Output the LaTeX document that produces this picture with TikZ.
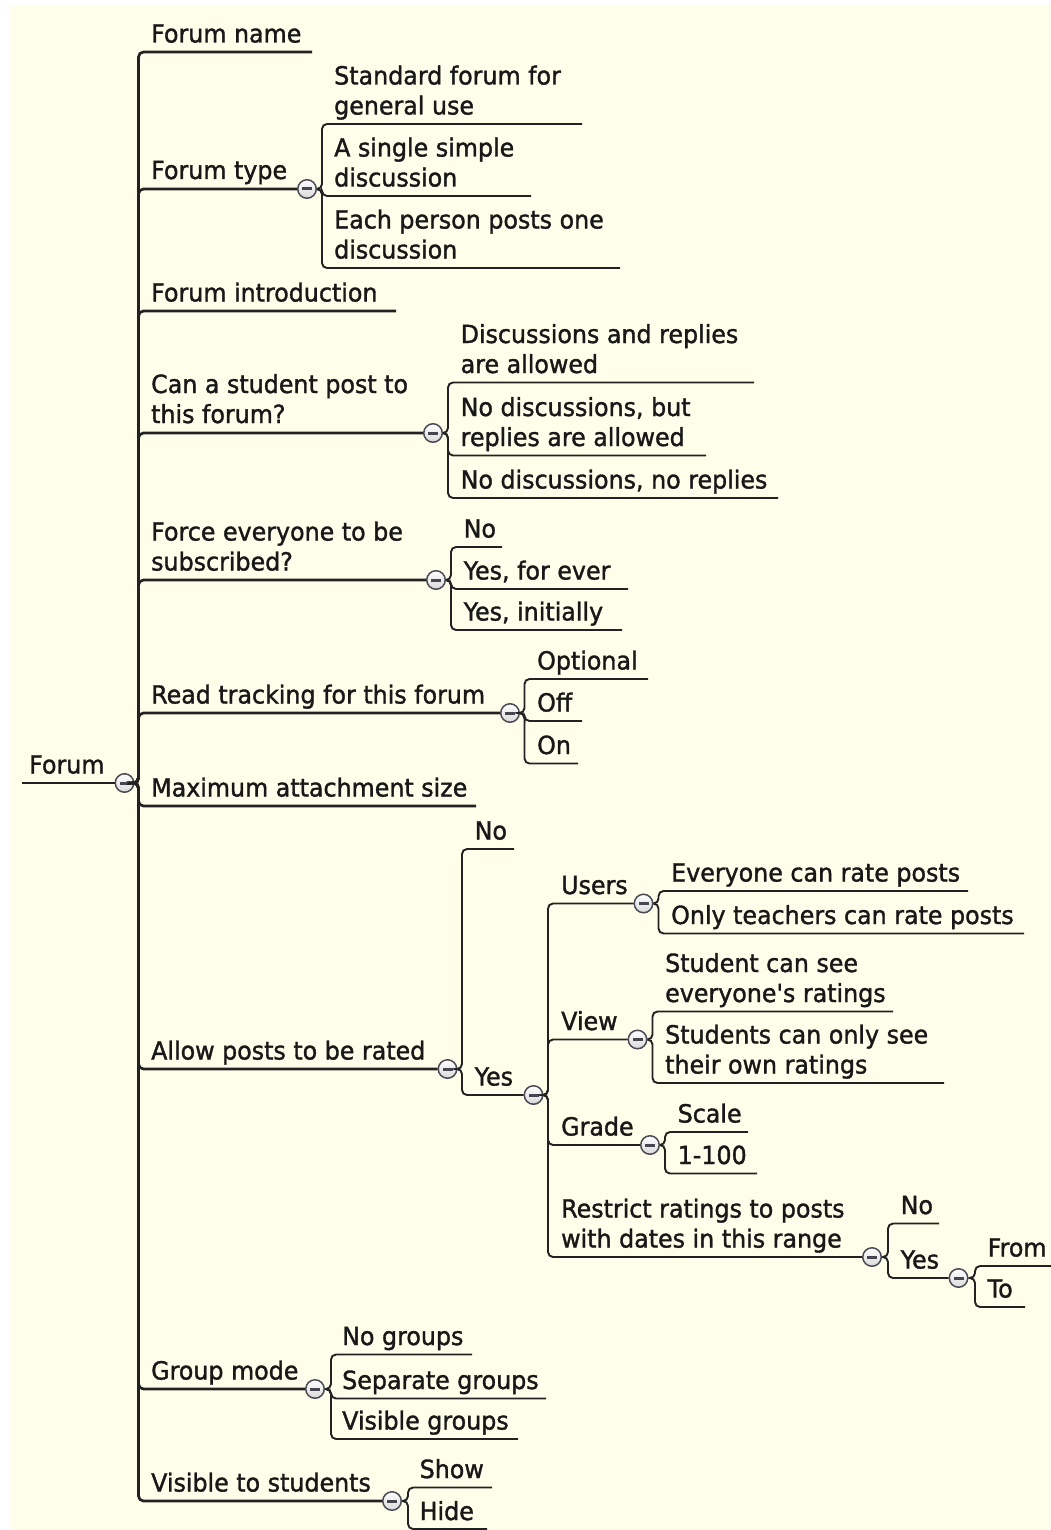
\documentclass[tikz,border=0pt]{standalone}
\usepackage{fontspec}
\newfontfamily\mapfont{DejaVu Sans}[FakeStretch=0.95,FakeBold=1.4]
\definecolor{bg}{RGB}{255,254,234}
\definecolor{ln}{RGB}{34,34,34}
\definecolor{txt}{RGB}{24,24,24}
\definecolor{cring}{RGB}{75,75,85}
\definecolor{cminus}{RGB}{70,70,80}
\newcommand\twoline[2]{\begin{tabular}[b]{@{}l@{}}#1\\#2\end{tabular}}
\tikzset{
  lbl/.style={anchor=base west, inner sep=0pt, text=txt, font=\mapfont\fontsize{25}{30}\selectfont},
  conn/.style={draw=ln, line width=1.9pt, rounded corners=5pt},
  rootconn/.style={conn, line width=2.7pt},
  coll/.style={circle, draw=cring, line width=1.5pt, minimum size=18.5pt, inner sep=0pt,
    top color=white, bottom color=gray!30,
    path picture={\fill[cminus] (-5pt,-1.5pt) rectangle (5pt,1.5pt);}},
}
\begin{document}
\begin{tikzpicture}[x=1pt,y=-1pt]
\useasboundingbox (0,0) rectangle (1051,1530);
\fill[white] (0,0) rectangle (1051,1530);
\fill[bg] (10,5) rectangle (1051,1530);

% bus coordinates
\coordinate (b0) at (138.5,0);
\coordinate (b1) at (322,0);
\coordinate (b2) at (448,0);
\coordinate (b3) at (451,0);
\coordinate (b4) at (524.5,0);
\coordinate (b5) at (462,0);
\coordinate (b6) at (331,0);
\coordinate (b7) at (408,0);
\coordinate (b8) at (548,0);
\coordinate (b9) at (658.5,0);
\coordinate (b10) at (652.5,0);
\coordinate (b11) at (665,0);
\coordinate (b12) at (888,0);
\coordinate (b13) at (975,0);

% root
\node[lbl] (forum) at (29,773.5) {Forum};
\coordinate (r0) at (22,783);
\node[coll] (c0) at (124.5,783) {};

% level 1
\node[lbl] (fname) at (151,42.5) {Forum name};
\coordinate (u-fname) at (312,52);
\node[lbl] (ftype) at (151,179) {Forum type};
\node[coll] (c1) at (307,189) {};
\node[lbl] (fintro) at (151,301.5) {Forum introduction};
\coordinate (u-fintro) at (396,311);
\node[lbl] (cans) at (151,423) {\twoline{Can a student post to}{this forum?}};
\node[coll] (c2) at (433,433) {};
\node[lbl] (force) at (151,570.5) {\twoline{Force everyone to be}{subscribed?}};
\node[coll] (c3) at (436,580) {};
\node[lbl] (read) at (151,703.5) {Read tracking for this forum};
\node[coll] (c4) at (510,713) {};
\node[lbl] (maxatt) at (151,796.5) {Maximum attachment size};
\coordinate (u-maxatt) at (476,806);
\node[lbl] (allow) at (151,1059.5) {Allow posts to be rated};
\node[coll] (c5) at (447.5,1069) {};
\node[lbl] (group) at (151,1379.5) {Group mode};
\node[coll] (c6) at (315,1389) {};
\node[lbl] (visible) at (151,1491.5) {Visible to students};
\node[coll] (c7) at (392,1501) {};

% forum type children
\node[lbl] (std) at (334,114.5) {\twoline{Standard forum for}{general use}};
\coordinate (u-std) at (582,124);
\node[lbl] (single) at (334,186.5) {\twoline{A single simple}{discussion}};
\coordinate (u-single) at (531,196);
\node[lbl] (each) at (334,258.5) {\twoline{Each person posts one}{discussion}};
\coordinate (u-each) at (620,268);

% can a student children
\node[lbl] (disc) at (460.5,373) {\twoline{Discussions and replies}{are allowed}};
\coordinate (u-disc) at (754,382.5);
\node[lbl] (nodisc) at (460.5,446) {\twoline{No discussions, but}{replies are allowed}};
\coordinate (u-nodisc) at (706,455.5);
\node[lbl] (nonone) at (460.5,488.5) {No discussions, no replies};
\coordinate (u-nonone) at (778,498);

% force children
\node[lbl] (fno) at (463.5,537.5) {No};
\coordinate (u-fno) at (502,547);
\node[lbl] (fyes) at (463.5,579.5) {Yes, for ever};
\coordinate (u-fyes) at (628,589);
\node[lbl] (fyesi) at (463.5,620.5) {Yes, initially};
\coordinate (u-fyesi) at (622,630);

% read tracking children
\node[lbl] (opt) at (537,669.5) {Optional};
\coordinate (u-opt) at (648,679);
\node[lbl] (off) at (537,711.5) {Off};
\coordinate (u-off) at (582,721);
\node[lbl] (on) at (537,754) {On};
\coordinate (u-on) at (578,763.5);

% allow children
\node[lbl] (ano) at (474.5,839.5) {No};
\coordinate (u-ano) at (514,849);
\node[lbl] (ayes) at (474.5,1085.5) {Yes};
\node[coll] (c8) at (533.5,1095) {};

% yes children
\node[lbl] (users) at (561,894) {Users};
\node[coll] (c9) at (643.5,903.5) {};
\node[lbl] (view) at (561,1030) {View};
\node[coll] (c10) at (637.5,1039.5) {};
\node[lbl] (grade) at (561,1135.5) {Grade};
\node[coll] (c11) at (650,1145) {};
\node[lbl] (restrict) at (561,1247.5) {\twoline{Restrict ratings to posts}{with dates in this range}};
\node[coll] (c12) at (872,1257) {};

% users children
\node[lbl] (everyone) at (671,881.5) {Everyone can rate posts};
\coordinate (u-everyone) at (968,891);
\node[lbl] (teachers) at (671,924) {Only teachers can rate posts};
\coordinate (u-teachers) at (1024,933.5);

% view children
\node[lbl] (seeall) at (665,1002) {\twoline{Student can see}{everyone's ratings}};
\coordinate (u-seeall) at (893,1011.5);
\node[lbl] (seeown) at (665,1073.5) {\twoline{Students can only see}{their own ratings}};
\coordinate (u-seeown) at (944,1083);

% grade children
\node[lbl] (scale) at (677.5,1122.5) {Scale};
\coordinate (u-scale) at (748,1132);
\node[lbl] (hundred) at (677.5,1164) {1-100};
\coordinate (u-hundred) at (757,1173.5);

% restrict children
\node[lbl] (rno) at (900.5,1214) {No};
\coordinate (u-rno) at (939,1223.5);
\node[lbl] (ryes) at (900.5,1268.5) {Yes};
\node[coll] (c13) at (958.5,1278) {};

% restrict yes children
\node[lbl] (from) at (987.5,1256.5) {From};
\coordinate (u-from) at (1051,1266);
\node[lbl] (to) at (987.5,1297.5) {To};
\coordinate (u-to) at (1025,1307);

% group children
\node[lbl] (nog) at (342,1345) {No groups};
\coordinate (u-nog) at (472,1354.5);
\node[lbl] (sep) at (342,1389) {Separate groups};
\coordinate (u-sep) at (546,1398.5);
\node[lbl] (visg) at (342,1429.5) {Visible groups};
\coordinate (u-visg) at (518,1439);

% visible children
\node[lbl] (show) at (419.5,1478) {Show};
\coordinate (u-show) at (492,1487.5);
\node[lbl] (hide) at (419.5,1520) {Hide};
\coordinate (u-hide) at (487,1529);

% ---------- connectors ----------
\draw[conn] (r0) -- (c0.west);
\foreach \t in {u-fname,c1.west,u-fintro,c2.west,c3.west,c4.west,u-maxatt,c5.west,c6.west,c7.west}
  \draw[rootconn] (c0.east) -- (c0.east -| b0) |- (\t);
\foreach \t in {u-std,u-single,u-each}
  \draw[conn] (c1.east) -- (c1.east -| b1) |- (\t);
\foreach \t in {u-disc,u-nodisc,u-nonone}
  \draw[conn] (c2.east) -- (c2.east -| b2) |- (\t);
\foreach \t in {u-fno,u-fyes,u-fyesi}
  \draw[conn] (c3.east) -- (c3.east -| b3) |- (\t);
\foreach \t in {u-opt,u-off,u-on}
  \draw[conn] (c4.east) -- (c4.east -| b4) |- (\t);
\foreach \t in {u-ano,c8.west}
  \draw[conn] (c5.east) -- (c5.east -| b5) |- (\t);
\foreach \t in {u-nog,u-sep,u-visg}
  \draw[conn] (c6.east) -- (c6.east -| b6) |- (\t);
\foreach \t in {u-show,u-hide}
  \draw[conn] (c7.east) -- (c7.east -| b7) |- (\t);
\foreach \t in {c9.west,c10.west,c11.west,c12.west}
  \draw[conn] (c8.east) -- (c8.east -| b8) |- (\t);
\foreach \t in {u-everyone,u-teachers}
  \draw[conn] (c9.east) -- (c9.east -| b9) |- (\t);
\foreach \t in {u-seeall,u-seeown}
  \draw[conn] (c10.east) -- (c10.east -| b10) |- (\t);
\foreach \t in {u-scale,u-hundred}
  \draw[conn] (c11.east) -- (c11.east -| b11) |- (\t);
\foreach \t in {u-rno,c13.west}
  \draw[conn] (c12.east) -- (c12.east -| b12) |- (\t);
\foreach \t in {u-from,u-to}
  \draw[conn] (c13.east) -- (c13.east -| b13) |- (\t);
\end{tikzpicture}
\end{document}
